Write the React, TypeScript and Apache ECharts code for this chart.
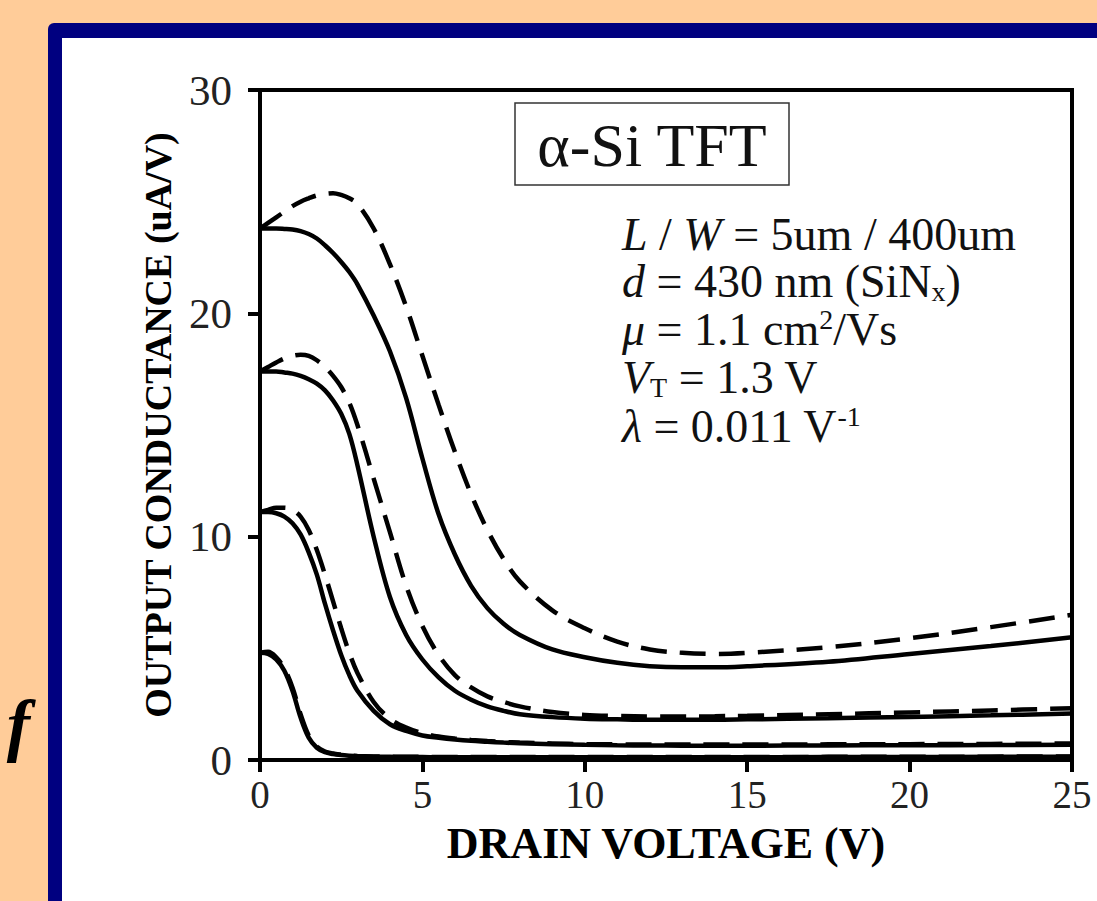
import React, { useEffect, useRef } from "react";
import * as echarts from "echarts";

// Drain voltage sample points (V)
const vds = [0, 0.25, 0.5, 0.75, 1, 1.25, 1.5, 1.75, 2, 2.25, 2.5, 2.75, 3, 3.5, 4, 4.5, 5, 5.5, 6, 6.5, 7, 7.5, 8, 9, 10, 11, 12, 13, 14, 15, 17.5, 20, 22.5, 25];

// Output conductance (uA/V), solid = model, dashed = measured
const solid1 = [23.8, 23.8, 23.8, 23.78, 23.75, 23.68, 23.55, 23.35, 23.05, 22.7, 22.3, 21.85, 21.3, 19.9, 18.3, 16.2, 13.5, 11.0, 9.2, 7.8, 6.8, 6.1, 5.6, 4.95, 4.6, 4.35, 4.2, 4.15, 4.15, 4.2, 4.4, 4.75, 5.1, 5.5];
const dashed1 = [23.8, 24.05, 24.3, 24.55, 24.8, 25.0, 25.15, 25.28, 25.35, 25.38, 25.3, 25.15, 24.9, 23.8, 22.2, 20.3, 18.1, 15.9, 13.8, 11.9, 10.3, 9.0, 8.0, 6.7, 5.9, 5.3, 4.95, 4.8, 4.75, 4.8, 5.05, 5.45, 5.95, 6.5];
const solid2 = [17.4, 17.4, 17.4, 17.35, 17.3, 17.2, 17.05, 16.85, 16.55, 16.1, 15.5, 14.6, 13.2, 10.0, 7.3, 5.6, 4.5, 3.7, 3.1, 2.7, 2.4, 2.2, 2.05, 1.92, 1.85, 1.82, 1.8, 1.8, 1.8, 1.82, 1.87, 1.93, 2.0, 2.08];
const dashed2 = [17.4, 17.6, 17.8, 17.98, 18.1, 18.15, 18.1, 17.9, 17.6, 17.2, 16.7, 16.0, 15.0, 12.6, 10.2, 7.8, 6.0, 4.7, 3.8, 3.25, 2.85, 2.6, 2.4, 2.15, 2.02, 1.97, 1.95, 1.95, 1.96, 1.98, 2.05, 2.13, 2.22, 2.32];
const solid3 = [11.1, 11.1, 11.05, 10.9, 10.6, 10.1, 9.3, 8.3, 7.0, 5.8, 4.7, 3.8, 3.1, 2.2, 1.6, 1.3, 1.1, 1.0, 0.92, 0.86, 0.82, 0.78, 0.75, 0.71, 0.68, 0.66, 0.65, 0.64, 0.64, 0.64, 0.65, 0.66, 0.67, 0.68];
const dashed3 = [11.1, 11.2, 11.3, 11.3, 11.2, 10.9, 10.3, 9.4, 8.3, 7.1, 5.9, 4.8, 3.9, 2.6, 1.85, 1.45, 1.2, 1.05, 0.96, 0.9, 0.85, 0.81, 0.78, 0.74, 0.71, 0.7, 0.69, 0.69, 0.69, 0.69, 0.7, 0.71, 0.72, 0.74];
const solid4 = [4.8, 4.75, 4.5, 4.0, 3.1, 1.9, 1.0, 0.55, 0.35, 0.27, 0.22, 0.19, 0.17, 0.15, 0.14, 0.13, 0.13, 0.12, 0.12, 0.12, 0.12, 0.12, 0.12, 0.12, 0.12, 0.12, 0.12, 0.12, 0.12, 0.12, 0.13, 0.13, 0.14, 0.14];
const dashed4 = [4.8, 4.85, 4.6, 4.1, 3.25, 2.05, 1.1, 0.6, 0.38, 0.29, 0.24, 0.2, 0.18, 0.16, 0.15, 0.14, 0.14, 0.13, 0.13, 0.13, 0.13, 0.13, 0.13, 0.13, 0.13, 0.13, 0.13, 0.13, 0.13, 0.13, 0.14, 0.14, 0.15, 0.16];

const xTicks = { min: 0, max: 25, interval: 5 };
const yTicks = { min: 0, max: 30, interval: 10 };

const SERIF = "Liberation Serif";

export default function App() {
  const ref = useRef<HTMLDivElement>(null);

  useEffect(() => {
    if (!ref.current) return;
    const chart = echarts.init(ref.current, undefined, { renderer: "svg" });

    const mk = (name: string, vals: number[], dashed: boolean) => ({
      name,
      type: "line",
      data: vds.map((v, i) => [v, vals[i]]),
      showSymbol: false,
      smooth: 0.35,
      lineStyle: {
        color: "#000",
        width: 4.5,
        type: dashed ? [26, 13] : "solid",
        cap: "butt",
      },
      z: 3,
    });

    const FS = 46;
    const LH = 46;
    const base = { fontFamily: SERIF, fontSize: FS, fill: "#111", lineHeight: LH };
    const rich = {
      i: { fontFamily: SERIF, fontSize: FS, fontStyle: "italic", fill: "#111", lineHeight: LH },
      sub: { fontFamily: SERIF, fontSize: 28, fill: "#111", verticalAlign: "middle", lineHeight: 18, padding: [20, 0, 0, 0] },
      sup: { fontFamily: SERIF, fontSize: 28, fill: "#111", verticalAlign: "middle", lineHeight: 18, padding: [0, 0, 20, 0] },
    };
    const paramLines = [
      "{i|L} / {i|W} = 5um / 400um",
      "{i|d} = 430 nm (SiN{sub|x})",
      "{i|μ} = 1.1 cm{sup|2}/Vs",
      "{i|V}{sub|T} = 1.3 V",
      "{i|λ} = 0.011 V{sup|-1}",
    ];
    const paramY = [234, 281, 329, 377, 426];

    chart.setOption({
      animation: false,
      backgroundColor: "transparent",
      grid: {
        left: 260,
        right: 25,
        top: 90,
        bottom: 141,
        show: true,
        borderColor: "#000",
        borderWidth: 4,
        backgroundColor: "transparent",
      },
      xAxis: {
        type: "value",
        ...xTicks,
        name: "DRAIN VOLTAGE (V)",
        nameLocation: "middle",
        nameGap: 63,
        nameMoveOverlap: false,
        nameTextStyle: { fontFamily: SERIF, fontSize: 44, lineHeight: 40, fontWeight: "bold", color: "#000" },
        axisLine: { show: true, lineStyle: { color: "#000", width: 4 } },
        axisTick: { show: true, inside: false, length: 12, lineStyle: { color: "#000", width: 4 } },
        axisLabel: { fontFamily: SERIF, fontSize: 39, lineHeight: 38, color: "#222", margin: 15 },
        splitLine: { show: false },
      },
      yAxis: {
        type: "value",
        ...yTicks,
        name: "OUTPUT CONDUCTANCE (uA/V)",
        nameLocation: "middle",
        nameGap: 83,
        nameMoveOverlap: false,
        nameRotate: 90,
        nameTextStyle: { fontFamily: SERIF, fontSize: 38, fontWeight: "bold", color: "#000" },
        axisLine: { show: true, lineStyle: { color: "#000", width: 4 } },
        axisTick: { show: true, inside: false, length: 12, lineStyle: { color: "#000", width: 4 } },
        axisLabel: { fontFamily: SERIF, fontSize: 43, color: "#222", margin: 28 },
        splitLine: { show: false },
      },
      graphic: [
        {
          type: "rect",
          shape: { x: 515, y: 103, width: 274, height: 82 },
          style: { fill: "#fff", stroke: "#333", lineWidth: 1.5 },
          z: 10,
        },
        {
          type: "text",
          x: 652,
          y: 145,
          style: {
            text: "α-Si TFT",
            fontFamily: SERIF,
            fontSize: 62,
            fill: "#111",
            align: "center",
            verticalAlign: "middle",
          },
          z: 11,
        },
        ...paramLines.map((t, k) => ({
          type: "text",
          x: 622,
          y: paramY[k],
          style: { ...base, text: t, rich, align: "left", verticalAlign: "middle" },
          z: 11,
        })),
        {
          type: "text",
          x: 30,
          y: 724,
          style: {
            text: "f",
            fontFamily: SERIF,
            fontSize: 70,
            fontWeight: "bold",
            fontStyle: "italic",
            fill: "#000",
            align: "right",
            verticalAlign: "middle",
          },
          z: 11,
        },
      ],
      series: [
        mk("solid1", solid1, false),
        mk("dashed1", dashed1, true),
        mk("solid2", solid2, false),
        mk("dashed2", dashed2, true),
        mk("solid3", solid3, false),
        mk("dashed3", dashed3, true),
        mk("solid4", solid4, false),
        mk("dashed4", dashed4, true),
      ],
    });

    return () => chart.dispose();
  }, []);

  return (
    <div style={{ position: "absolute", left: 0, top: 0, width: 1097, height: 901, background: "#FFCC99", overflow: "hidden" }}>
      <div style={{ position: "absolute", left: 48, top: 23, width: 1049, height: 878, background: "#000080", borderTopLeftRadius: 6 }} />
      <div style={{ position: "absolute", left: 62, top: 38, width: 1035, height: 863, background: "#fff" }} />
      <div ref={ref} style={{ position: "absolute", left: 0, top: 0, width: 1097, height: 901 }} />
    </div>
  );
}
